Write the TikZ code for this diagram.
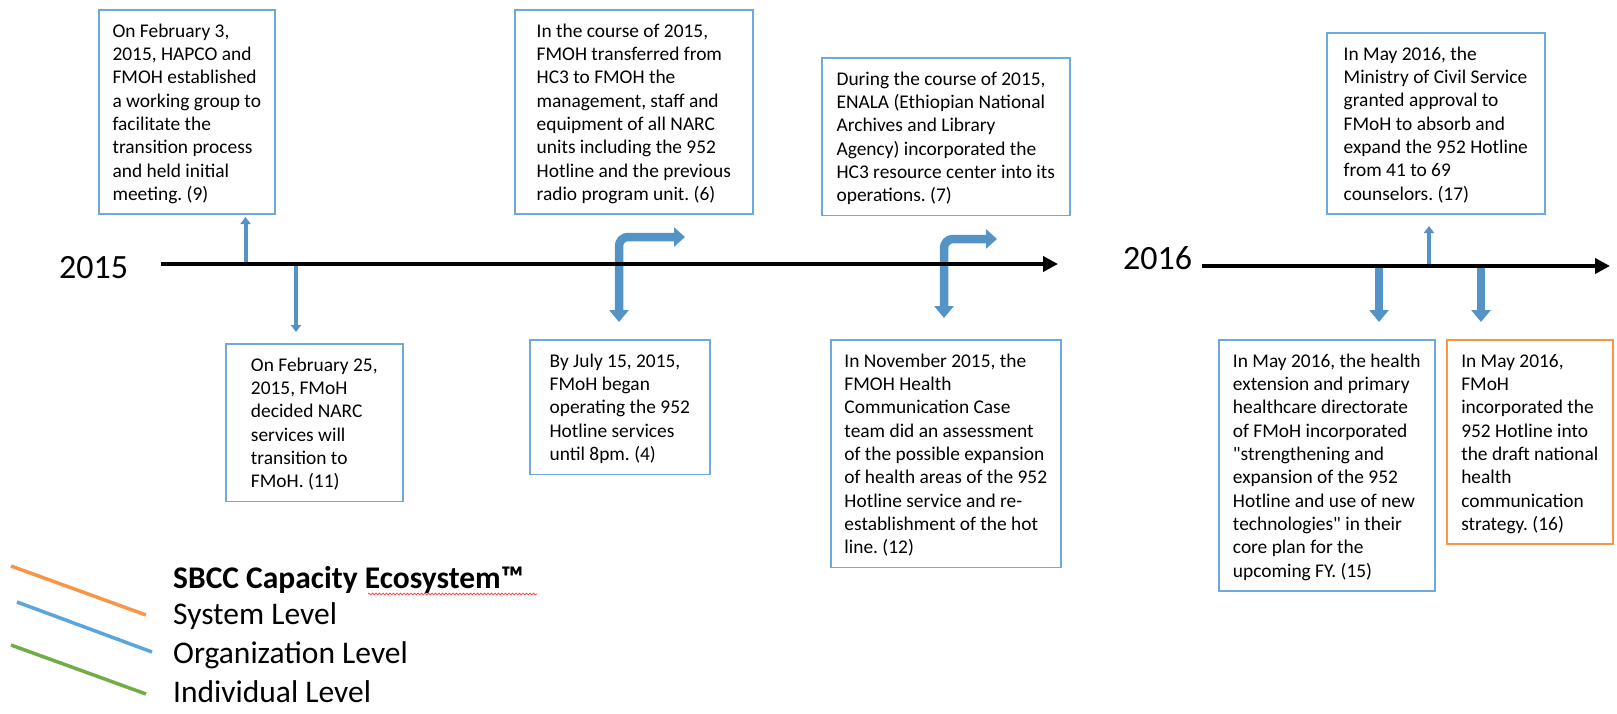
\documentclass[tikz,border=0pt]{standalone}
\usepackage{fontspec}
\setmainfont{Carlito}
\newfontfamily\qfont{Carlito}
\usetikzlibrary{arrows.meta,decorations.pathmorphing}
\definecolor{boxblue}{HTML}{6FA8DC}
\definecolor{arrowblue}{HTML}{5393C6}
\definecolor{boxorange}{HTML}{F79646}
\definecolor{legblue}{HTML}{5AA5DC}
\definecolor{leggreen}{HTML}{70AD47}
\newcommand\fstrut{\rule{0pt}{18pt}}
\newcommand\lstrut{\rule[-4.3pt]{0pt}{1pt}}
\newcommand\sq{{\qfont"}}
\frenchspacing
\tikzset{
  evbox/.style={draw=boxblue, line width=1.6pt, fill=white, anchor=north west,
    align=left, inner xsep=0pt, inner ysep=9.5pt,
    font=\fontsize{19.4}{23.3}\selectfont},
  thinarrow/.style={draw=arrowblue, line width=4pt, -{Triangle[length=7pt,width=10pt]}},
  thickarrow/.style={draw=arrowblue, line width=8.5pt, -{Triangle[length=12pt,width=19pt]}},
  bentarrow/.style={draw=arrowblue, line width=8.5pt, rounded corners=9pt,
    {Triangle[length=12pt,width=19pt]}-{Triangle[length=11pt,width=19pt]}},
  timeline/.style={draw=black, line width=4.5pt, -{Triangle[length=15pt,width=15pt]}},
  yearlbl/.style={anchor=base west, inner sep=0pt, font=\fontsize{34}{40}\selectfont},
  leglbl/.style={anchor=base west, inner sep=0pt, font=\fontsize{31.5}{38}\selectfont},
  legline/.style={line width=3.5pt},
}
\begin{document}
\begin{tikzpicture}[x=1pt,y=-1pt]
\useasboundingbox (0,0) rectangle (1617,713);

% coordinates
\coordinate (t1s) at (161,264);
\coordinate (t1e) at (1058,264);
\coordinate (t2s) at (1202,266);
\coordinate (t2e) at (1610,266);
\coordinate (a1s) at (245.5,262);
\coordinate (a1e) at (245.5,217);
\coordinate (a2s) at (296,266);
\coordinate (a2e) at (296,332);
\coordinate (b1d) at (619,322);
\coordinate (b1c) at (619,237);
\coordinate (b1r) at (685,237);
\coordinate (b2d) at (944,318);
\coordinate (b2c) at (944,239);
\coordinate (b2r) at (997,239);
\coordinate (a3s) at (1429,264);
\coordinate (a3e) at (1429,226);
\coordinate (a4s) at (1379,268);
\coordinate (a4e) at (1379,322);
\coordinate (a5s) at (1481,268);
\coordinate (a5e) at (1481,322);

% event boxes
\node[evbox, minimum width=176pt] (e1) at (98,9) {\fstrut On February 3,\\2015, HAPCO and\\FMOH established\\a working group to\\facilitate the\\transition process\\and held initial\\meeting. (9)\lstrut};
\node[evbox, minimum width=177pt] (e2) at (225,343) {\fstrut On February 25,\\2015, FMoH\\decided NARC\\services will\\transition to\\FMoH. (11)\lstrut};
\node[evbox, minimum width=238pt] (e3) at (514,9) {\fstrut In the course of 2015,\\FMOH transferred from\\HC3 to FMOH the\\management, staff and\\equipment of all NARC\\units including the 952\\Hotline and the previous\\radio program unit. (6)\lstrut};
\node[evbox, minimum width=180pt] (e4) at (529,339) {\fstrut By July 15, 2015,\\FMoH began\\operating the 952\\Hotline services\\until 8pm. (4)\lstrut};
\node[evbox, minimum width=248pt] (e5) at (821,57) {\fstrut During the course of 2015,\\ENALA (Ethiopian National\\Archives and Library\\Agency) incorporated the\\HC3 resource center into its\\operations. (7)\lstrut};
\node[evbox, minimum width=230pt] (e6) at (830,339) {\fstrut In November 2015, the\\FMOH Health\\Communication Case\\team did an assessment\\of the possible expansion\\of health areas of the 952\\Hotline service and re-\\establishment of the hot\\line. (12)\lstrut};
\node[evbox, minimum width=218pt] (e7) at (1326,32) {\fstrut In May 2016, the\\Ministry of Civil Service\\granted approval to\\FMoH to absorb and\\expand the 952 Hotline\\from 41 to 69\\counselors. (17)\lstrut};
\node[evbox, minimum width=216pt] (e8) at (1218,339) {\fstrut In May 2016, the health\\extension and primary\\healthcare directorate\\of FMoH incorporated\\\sq strengthening and\\expansion of the 952\\Hotline and use of new\\technologies\sq{} in their\\core plan for the\\upcoming FY. (15)\lstrut};
\node[evbox, draw=boxorange, minimum width=166pt] (e9) at (1446,339) {\fstrut In May 2016,\\FMoH\\incorporated the\\952 Hotline into\\the draft national\\health\\communication\\strategy. (16)\lstrut};

% arrows
\draw[thinarrow] (a1s) -- (a1e);
\draw[thinarrow] (a2s) -- (a2e);
\draw[bentarrow] (b1d) -- (b1c) -- (b1r);
\draw[bentarrow] (b2d) -- (b2c) -- (b2r);
\draw[thinarrow] (a3s) -- (a3e);
\draw[thickarrow] (a4s) -- (a4e);
\draw[thickarrow] (a5s) -- (a5e);

% timelines
\draw[timeline] (t1s) -- (t1e);
\draw[timeline] (t2s) -- (t2e);
\node[yearlbl] (y2015) at (59,278) {2015};
\node[yearlbl] (y2016) at (1123,269) {2016};

% legend
\coordinate (lo1) at (11,566); \coordinate (lo2) at (146,615);
\coordinate (lb1) at (17,602); \coordinate (lb2) at (152,652);
\coordinate (lg1) at (11,645); \coordinate (lg2) at (146,694);
\draw[legline, boxorange] (lo1) -- (lo2);
\draw[legline, legblue] (lb1) -- (lb2);
\draw[legline, leggreen] (lg1) -- (lg2);
\node[leglbl, font=\fontsize{31.5}{38}\selectfont\bfseries] (lt) at (173,588) {SBCC Capacity Ecosystem™};
\node[leglbl] (l1) at (173,624) {System Level};
\node[leglbl] (l2) at (173,663) {Organization Level};
\node[leglbl] (l3) at (173,702) {Individual Level};
\coordinate (w1) at (368,594);
\coordinate (w2) at (537,594);
\draw[red!80, line width=0.7pt, decorate, decoration={snake, amplitude=0.9pt, segment length=3.5pt}] (w1) -- (w2);
\end{tikzpicture}
\end{document}
